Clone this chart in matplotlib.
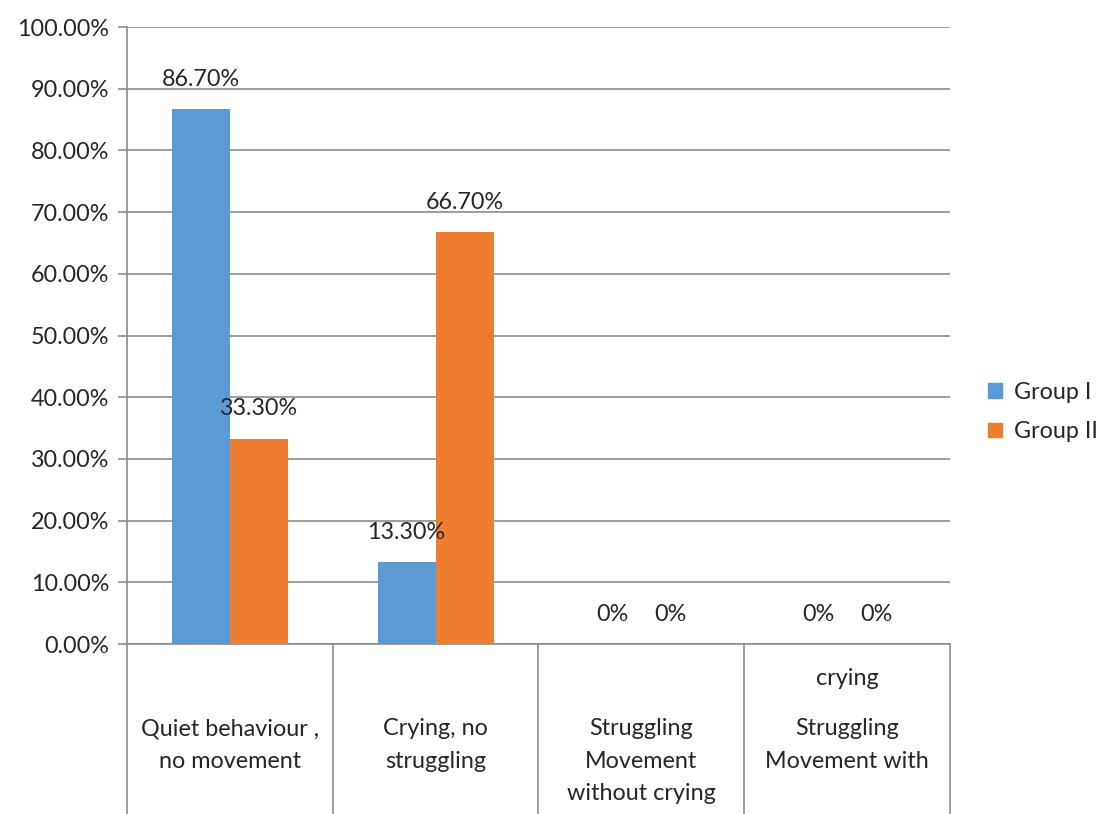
import matplotlib
matplotlib.use("Agg")
import matplotlib.pyplot as plt
import matplotlib.transforms as mtransforms
from matplotlib.patches import Patch
from matplotlib.ticker import MultipleLocator, FuncFormatter

categories = ["Quiet behaviour ,\nno movement",
              "Crying, no\nstruggling",
              "Struggling\nMovement\nwithout crying",
              "Struggling\nMovement with"]
# word that spilled above the wrapped label in the last category
spill = ["", "", "", "crying"]
group1 = [86.7, 13.3, 0, 0]
group2 = [33.3, 66.7, 0, 0]
series_names = ["Group I", "Group II"]
bar_labels1 = ["86.70%", "13.30%", "0%", "0%"]
bar_labels2 = ["33.30%", "66.70%", "0%", "0%"]

BLUE = "#5B9BD5"
ORANGE = "#ED7D31"
GRID = "#8c8c8c"
TEXT = "#262626"
FS = 16.8

plt.rcParams['font.family'] = ['Lato', 'DejaVu Sans']

fig = plt.figure(figsize=(11.06, 8.14), dpi=100)
ax = fig.add_axes([0.1148, 0.2088, 0.7441, 0.758])

width = 0.282
xs = [i + 0.5 for i in range(len(categories))]
b1 = ax.bar([x - width / 2 for x in xs], group1, width, color=BLUE, zorder=3)
b2 = ax.bar([x + width / 2 for x in xs], group2, width, color=ORANGE, zorder=3)

for bars, labels in ((b1, bar_labels1), (b2, bar_labels2)):
    for rect, lab in zip(bars, labels):
        ax.annotate(lab, (rect.get_x() + rect.get_width() / 2, rect.get_height()),
                    xytext=(0, 21.5), textcoords="offset points",
                    ha="center", va="center", fontsize=FS, color=TEXT)

ax.set_xlim(0, 4)
ax.set_ylim(0, 100)
ax.yaxis.set_major_locator(MultipleLocator(10))
ax.yaxis.set_major_formatter(FuncFormatter(lambda v, p: "%.2f%%" % v))
ax.tick_params(axis="y", labelsize=FS, labelcolor=TEXT, color=GRID,
               length=6.5, width=1.2, pad=6)
ax.set_xticks([])
ax.grid(axis="y", color=GRID, linewidth=1.2, zorder=0)
for side in ("top", "right"):
    ax.spines[side].set_visible(False)
ax.spines["left"].set_color(GRID)
ax.spines["left"].set_linewidth(1.2)
ax.spines["bottom"].set_color(GRID)
ax.spines["bottom"].set_linewidth(1.2)

# category separators running down through the label area
trans = mtransforms.blended_transform_factory(ax.transData, ax.transAxes)
for i in range(len(categories) + 1):
    ax.plot([i, i], [0, -0.3], transform=trans, color=GRID, linewidth=1.2,
            clip_on=False)

for x, cat, extra in zip(xs, categories, spill):
    ax.text(x, -0.12, cat, transform=trans, ha="center", va="top",
            fontsize=FS, color=TEXT, linespacing=1.68)
    if extra:
        ax.text(x, -0.056, extra, transform=trans, ha="center", va="center",
                fontsize=FS, color=TEXT)

handles = [Patch(color=BLUE), Patch(color=ORANGE)]
fig.legend(handles, series_names, loc="center left",
           bbox_to_anchor=(0.8933, 0.494), frameon=False, fontsize=FS,
           handlelength=0.6, handleheight=0.6, handletextpad=0.5,
           labelspacing=0.8, borderpad=0, borderaxespad=0, labelcolor=TEXT)

fig.savefig("out.png", dpi=100, facecolor="white")
